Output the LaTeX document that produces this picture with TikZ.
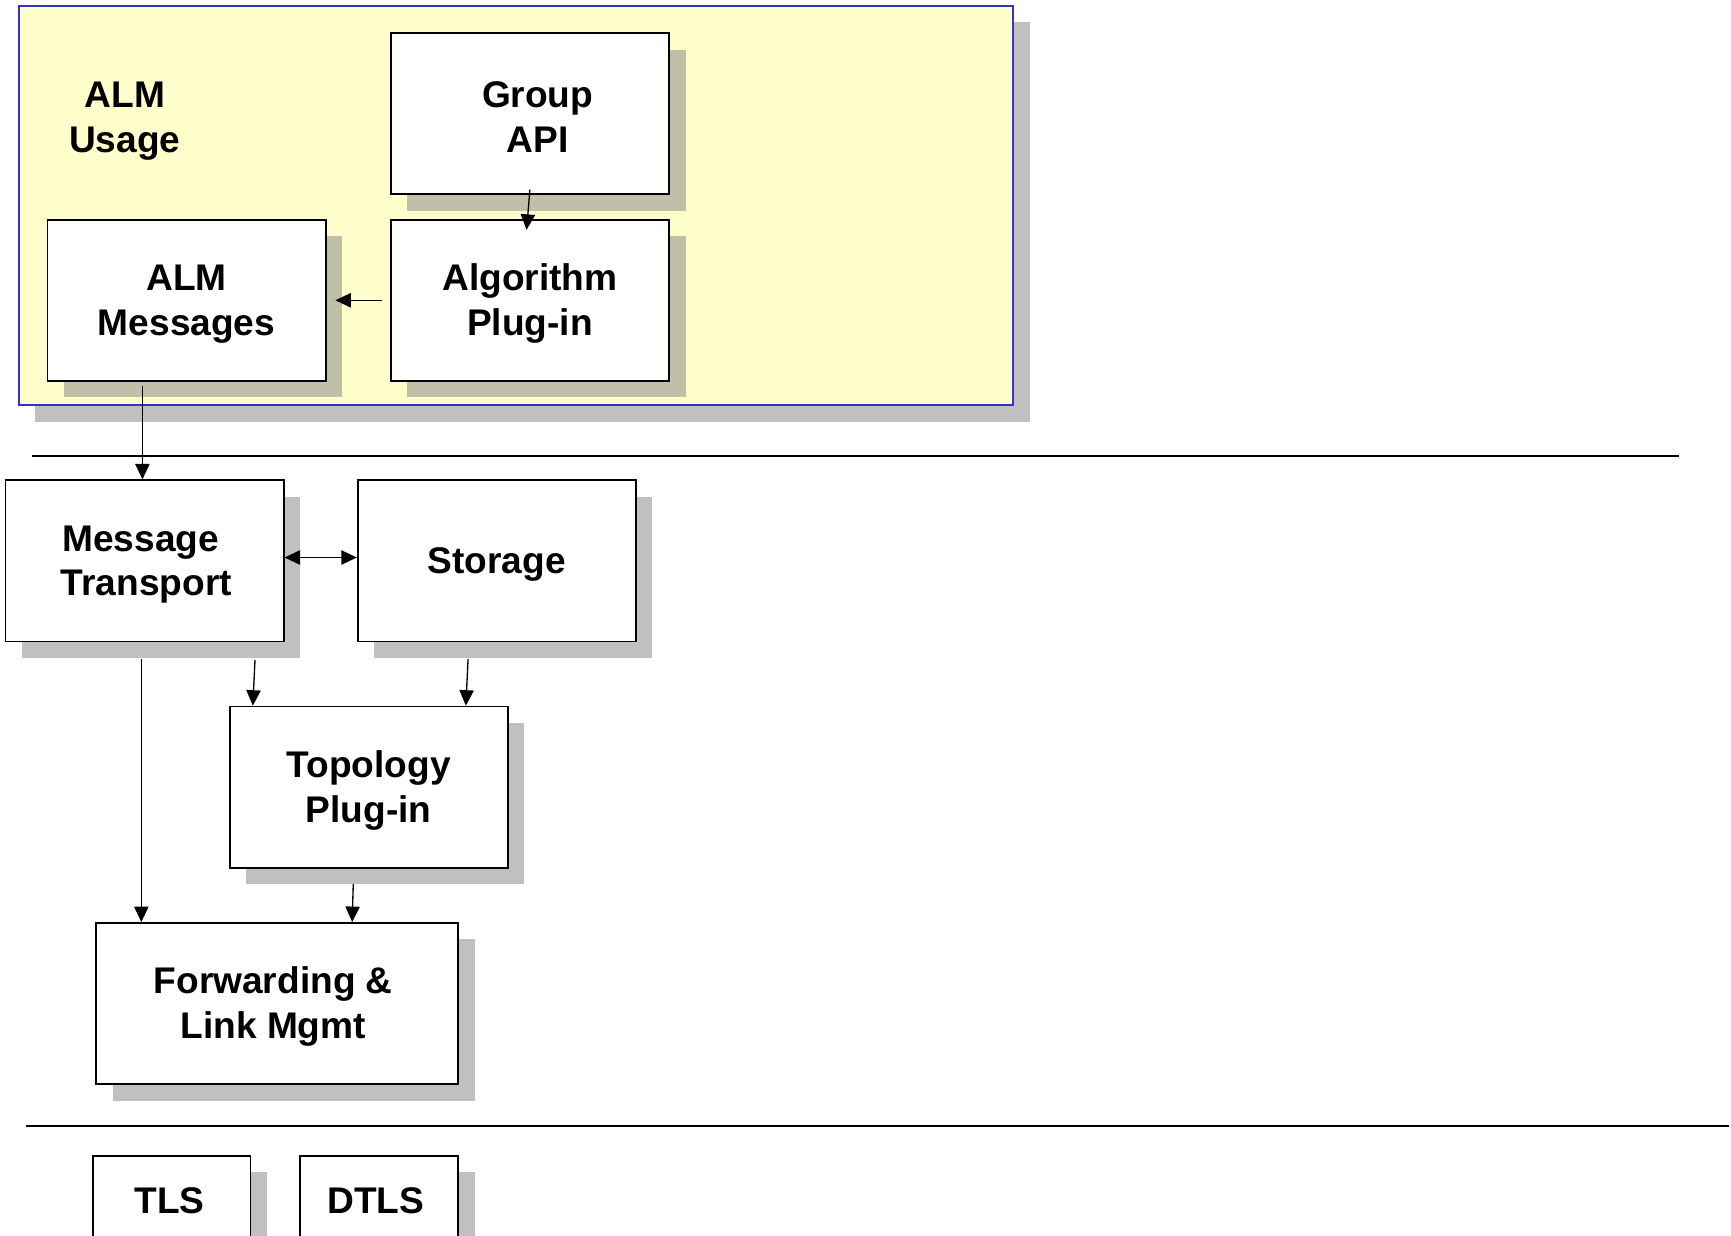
\documentclass[tikz,border=0pt]{standalone}
\usepackage{fontspec}
\setmainfont{Liberation Sans}
\usetikzlibrary{arrows.meta,shadows}
\definecolor{yellowbg}{RGB}{255,255,204}
\definecolor{bluebd}{RGB}{51,51,204}
\definecolor{shadowgray}{RGB}{192,192,192}
\definecolor{shadowyel}{RGB}{192,192,168}
\newcommand\mytstrut{\rule{0pt}{15pt}}
\tikzset{
  lbl/.style={font=\fontsize{16.8}{20.3}\selectfont\bfseries, align=center},
  box/.style={lbl, draw=black, line width=0.8pt, fill=white, inner sep=0pt,
    minimum width=126pt, minimum height=73pt},
  shadowout/.style={drop shadow={shadow xshift=7.5pt, shadow yshift=-7.5pt, fill=shadowgray, opacity=1}},
  shadowin/.style={drop shadow={shadow xshift=7.5pt, shadow yshift=-7.5pt, fill=shadowyel, opacity=1}},
  arr/.style={line width=0.6pt, -{Triangle[length=7pt,width=6.5pt]}},
  dblarr/.style={line width=0.6pt, {Triangle[length=7pt,width=6.5pt]}-{Triangle[length=7pt,width=6.5pt]}},
  sep/.style={line width=0.9pt}
}
\begin{document}
\begin{tikzpicture}[x=0.5pt,y=-0.5pt]
\useasboundingbox (0,0) rectangle (1568,1119);
\clip (0,0) rectangle (1568,1119);
% outer ALM usage area
\node[shadowout, draw=bluebd, line width=0.9pt, fill=yellowbg, inner sep=0pt,
  minimum width=450.5pt, minimum height=181pt] (usage) at (467.5,186) {};
\node[lbl] (usagetxt) at (113,106) {\mytstrut ALM\\Usage};
% boxes
\node[box, shadowin] (grp) at (480,103) {\mytstrut\hspace*{7pt}Group\\\hspace*{7pt}API};
\node[box, shadowin] (alg) at (480,272) {\mytstrut Algorithm\\Plug-in};
\node[box, shadowin] (msg) at (169,272) {\mytstrut ALM\\Messages};
\node[box, shadowout] (mt) at (131,508) {\mytstrut Message\hspace*{3.5pt}\\\hspace*{1.5pt}Transport};
\node[box, shadowout] (sto) at (450,508) {\mytstrut Storage};
\node[box, shadowout] (top) at (334,713) {\mytstrut Topology\\Plug-in};
\node[box, shadowout, minimum width=164pt] (fwd) at (251,909) {\mytstrut Forwarding \&\hspace*{3.5pt}\\Link Mgmt\hspace*{3.5pt}};
\node[box, shadowout, minimum width=71.5pt, minimum height=37pt] (tls) at (155.5,1084) {\mytstrut TLS\hspace*{2pt}};
\node[box, shadowout, minimum width=71.5pt, minimum height=37pt] (dtls) at (343.5,1084) {\mytstrut DTLS\hspace*{3pt}};
% separators
\coordinate (s1a) at (29,413);
\coordinate (s1b) at (1521,413);
\coordinate (s2a) at (24,1020);
\coordinate (s2b) at (1566,1020);
\draw[sep] (s1a) -- (s1b);
\draw[sep] (s2a) -- (s2b);
% connectors
\draw[arr] ([yshift=2.5pt]grp.south) -- ([xshift=-1.5pt,yshift=-5pt]alg.north);
\draw[arr] ([xshift=-3.5pt]alg.west) -- ([xshift=4pt]msg.east);
\draw[arr] ([xshift=-20pt,yshift=-2pt]msg.south) -- ([xshift=-1pt]mt.north);
\draw[dblarr] ([yshift=1.5pt]mt.east) -- ([yshift=1.5pt]sto.west);
\draw[arr] ([xshift=-1.5pt,yshift=-7.5pt]mt.south) -- ([xshift=-61.5pt]fwd.north);
\draw[arr] ([xshift=50pt,yshift=-8pt]mt.south) -- ([xshift=-52.5pt]top.north);
\draw[arr] ([xshift=-13pt,yshift=-7.5pt]sto.south) -- ([xshift=44pt]top.north);
\draw[arr] ([xshift=-7pt,yshift=-7pt]top.south) -- ([xshift=34pt]fwd.north);
\end{tikzpicture}
\end{document}
